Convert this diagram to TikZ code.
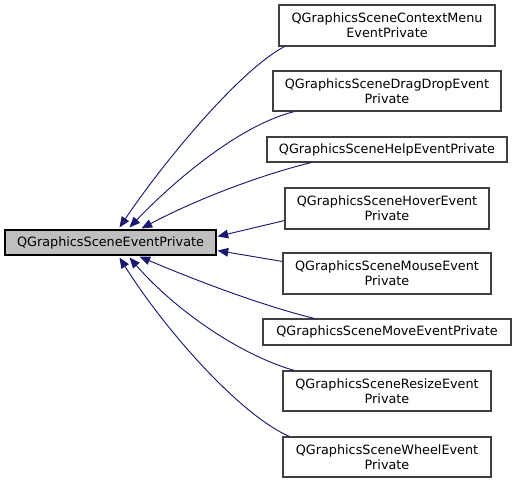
\documentclass[tikz,border=0pt]{standalone}
\usepackage{fontspec}
\setmainfont{DejaVu Sans}
\usetikzlibrary{arrows.meta,calc}
\definecolor{edgeblue}{HTML}{191970}
\definecolor{boxborder}{HTML}{404040}
\begin{document}
\begin{tikzpicture}[x=0.75pt,y=-0.75pt,
  cls/.style={draw=boxborder,line width=0.8pt,fill=white,inner sep=0pt,align=center,
    font=\fontsize{9.6}{11.3}\selectfont},
  mainbox/.style={cls,fill=black!25,draw=black},
  inh/.style={draw=edgeblue,line width=0.7pt,-{Triangle[length=8pt,width=6.5pt]}}]
\useasboundingbox (0,0) rectangle (516,483);
\node[mainbox,minimum width=158.25pt,minimum height=18.75pt] (base) at (110.5,242.5) {QGraphicsSceneEventPrivate};
\node[cls,minimum width=162pt,minimum height=30.75pt] (cm) at (387,25.5) {QGraphicsSceneContextMenu\\EventPrivate};
\node[cls,minimum width=171pt,minimum height=30pt] (dd) at (387,91) {QGraphicsSceneDragDropEvent\\Private};
\node[cls,minimum width=180pt,minimum height=18.75pt] (hp) at (387,149.5) {QGraphicsSceneHelpEventPrivate};
\node[cls,minimum width=153pt,minimum height=30.75pt] (hv) at (387,208.5) {QGraphicsSceneHoverEvent\\Private};
\node[cls,minimum width=156pt,minimum height=30.75pt] (ms) at (387,273.5) {QGraphicsSceneMouseEvent\\Private};
\node[cls,minimum width=186pt,minimum height=19.5pt] (mv) at (387,332) {QGraphicsSceneMoveEventPrivate};
\node[cls,minimum width=156pt,minimum height=30pt] (rs) at (387,391) {QGraphicsSceneResizeEvent\\Private};
\node[cls,minimum width=156pt,minimum height=30pt] (wh) at (387,457) {QGraphicsSceneWheelEvent\\Private};

\draw[inh] ($(cm.south west)+(6,0)$) .. controls (240,70) and (165,160) .. ($(base.north west)+(115,-2)$);
\draw[inh] ($(dd.south west)+(22,0)$) .. controls (240,125) and (175,180) .. ($(base.north west)+(125,-2)$);
\draw[inh] ($(hp.south west)+(45,0)$) .. controls (260,175) and (195,200) .. ($(base.north west)+(137,-1)$);
\draw[inh] ($(hv.south west)+(0,-9)$) -- ($(base.north east)+(1,7)$);
\draw[inh] ($(ms.north west)+(0,9)$) -- ($(base.south east)+(1,-5)$);
\draw[inh] ($(mv.north west)+(52,0)$) .. controls (260,305) and (195,280) .. ($(base.south west)+(135,1)$);
\draw[inh] ($(rs.north west)+(12,0)$) .. controls (240,355) and (175,310) .. ($(base.south west)+(125,2)$);
\draw[inh] ($(wh.north west)+(7,0)$) .. controls (240,415) and (165,330) .. ($(base.south west)+(115,2)$);
\end{tikzpicture}
\end{document}
